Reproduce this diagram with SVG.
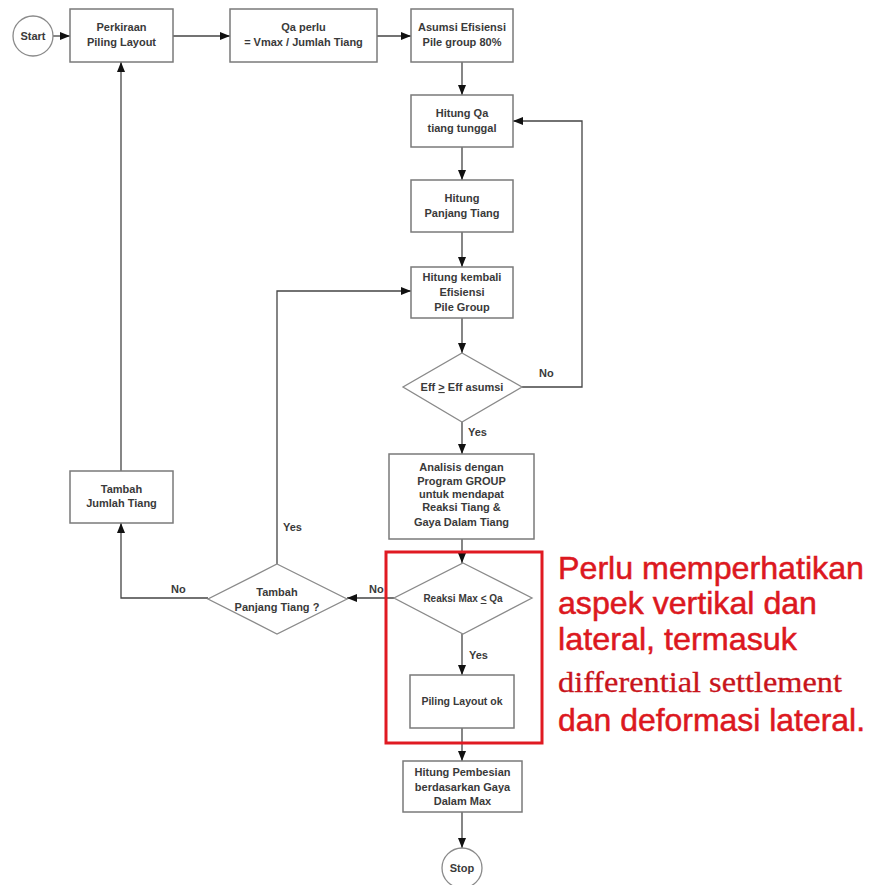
<svg xmlns="http://www.w3.org/2000/svg" width="870" height="885" viewBox="0 0 870 885">
<defs>
<marker id="ah" markerWidth="10" markerHeight="8" refX="10" refY="4" orient="auto" markerUnits="userSpaceOnUse">
<path d="M0,0 L10,4 L0,8 Z" fill="#111"/>
</marker>
<style>
.box{fill:#fff;stroke:#7a7a7a;stroke-width:1.5}
.dia{fill:#fff;stroke:#8a8a8a;stroke-width:1.3}
.term{fill:#fff;stroke:#8a8a8a;stroke-width:1.3}
.t{font-family:"Liberation Sans",Arial,sans-serif;font-size:11px;font-weight:bold;fill:#3a3a3a;text-anchor:middle}
.lbl{font-family:"Liberation Sans",Arial,sans-serif;font-size:11px;font-weight:bold;fill:#3a3a3a}
.c{fill:none;stroke:#444;stroke-width:1.3}
.a{marker-end:url(#ah)}
.red{font-family:"Liberation Sans",Arial,sans-serif;font-size:30.5px;fill:#dc1820;stroke:#dc1820;stroke-width:0.5}
.reds{font-family:"Liberation Serif","Times New Roman",serif;font-size:29px;fill:#c8141c;stroke:#c8141c;stroke-width:0.3}
</style>
</defs>
<rect width="870" height="885" fill="#fff"/>

<g id="connectors">
<path class="c a" d="M53,36 L70,36"/>
<path class="c a" d="M173,36 L230,36"/>
<path class="c a" d="M377,36 L411,36"/>
<path class="c a" d="M462,62 L462,95"/>
<path class="c a" d="M462,147 L462,180"/>
<path class="c a" d="M462,232 L462,267"/>
<path class="c a" d="M462,318 L462,353"/>
<path class="c a" d="M522,387 L582,387 L582,121 L513,121"/>
<path class="c a" d="M462,422 L462,454"/>
<path class="c a" d="M462,539 L462,563"/>
<path class="c a" d="M462,634 L462,675"/>
<path class="c a" d="M462,728 L462,761"/>
<path class="c a" d="M462,812 L462,848"/>
<path class="c a" d="M394,598 L347,598"/>
<path class="c a" d="M208,598 L121,598 L121,523"/>
<path class="c a" d="M277,564 L277,291 L411,291"/>
<path class="c a" d="M121,471 L121,62"/>
<text class="lbl" x="539" y="377">No</text>
<text class="lbl" x="468" y="436">Yes</text>
<text class="lbl" x="469" y="659">Yes</text>
<text class="lbl" x="369" y="593">No</text>
<text class="lbl" x="171" y="593">No</text>
<text class="lbl" x="283" y="531">Yes</text>
</g>

<g id="start">
<circle class="term" cx="33" cy="36" r="20"/>
<text class="t" x="33" y="40">Start</text>
</g>
<g id="perkiraan">
<rect class="box" x="70" y="9" width="103" height="53"/>
<text class="t" x="121.5" y="31">Perkiraan</text>
<text class="t" x="121.5" y="46">Piling Layout</text>
</g>
<g id="qa-perlu">
<rect class="box" x="230" y="9" width="147" height="53"/>
<text class="t" x="303.5" y="31">Qa perlu</text>
<text class="t" x="303.5" y="46">= Vmax / Jumlah Tiang</text>
</g>
<g id="asumsi">
<rect class="box" x="411" y="9" width="102" height="53"/>
<text class="t" x="462" y="31">Asumsi Efisiensi</text>
<text class="t" x="462" y="46">Pile group 80%</text>
</g>
<g id="hitung-qa">
<rect class="box" x="411" y="95" width="102" height="52"/>
<text class="t" x="462" y="117">Hitung Qa</text>
<text class="t" x="462" y="132">tiang tunggal</text>
</g>
<g id="hitung-panjang">
<rect class="box" x="411" y="180" width="102" height="52"/>
<text class="t" x="462" y="202">Hitung</text>
<text class="t" x="462" y="217">Panjang Tiang</text>
</g>
<g id="hitung-kembali">
<rect class="box" x="411" y="267" width="102" height="51"/>
<text class="t" x="462" y="281">Hitung kembali</text>
<text class="t" x="462" y="296">Efisiensi</text>
<text class="t" x="462" y="311">Pile Group</text>
</g>
<g id="eff-decision">
<polygon class="dia" points="462,353 522,387 462,422 403,387"/>
<text class="t" x="462" y="391">Eff <tspan text-decoration="underline">&gt;</tspan> Eff asumsi</text>
</g>
<g id="analisis">
<rect class="box" x="389" y="454" width="145" height="85"/>
<text class="t" x="461.5" y="471">Analisis dengan</text>
<text class="t" x="461.5" y="485">Program GROUP</text>
<text class="t" x="461.5" y="498">untuk mendapat</text>
<text class="t" x="461.5" y="511">Reaksi Tiang &amp;</text>
<text class="t" x="461.5" y="526">Gaya Dalam Tiang</text>
</g>
<g id="reaksi-decision">
<polygon class="dia" points="463,563 532,598 463,634 394,598"/>
<text class="t" x="463" y="602" style="font-size:10px">Reaksi Max <tspan text-decoration="underline">&lt;</tspan> Qa</text>
</g>
<g id="piling-ok">
<rect class="box" x="410" y="675" width="104" height="53"/>
<text class="t" x="462" y="705" style="font-size:10.5px">Piling Layout ok</text>
</g>
<g id="pembesian">
<rect class="box" x="403" y="761" width="119" height="51"/>
<text class="t" x="462.5" y="776">Hitung Pembesian</text>
<text class="t" x="462.5" y="791">berdasarkan Gaya</text>
<text class="t" x="462.5" y="805">Dalam Max</text>
</g>
<g id="stop">
<circle class="term" cx="462" cy="868" r="20"/>
<text class="t" x="462" y="872">Stop</text>
</g>
<g id="tambah-jumlah">
<rect class="box" x="70" y="471" width="103" height="52"/>
<text class="t" x="121.5" y="493">Tambah</text>
<text class="t" x="121.5" y="507">Jumlah Tiang</text>
</g>
<g id="tambah-panjang">
<polygon class="dia" points="277,564 347,599 277,634 208,599"/>
<text class="t" x="277" y="596">Tambah</text>
<text class="t" x="277" y="611">Panjang Tiang ?</text>
</g>

<g id="highlight">
<rect x="386" y="552" width="156" height="191" fill="none" stroke="#e01a22" stroke-width="3"/>
<text class="red" x="558" y="579" textLength="306" lengthAdjust="spacingAndGlyphs">Perlu memperhatikan</text>
<text class="red" x="558" y="614" textLength="259" lengthAdjust="spacingAndGlyphs">aspek vertikal dan</text>
<text class="red" x="558" y="650" textLength="239" lengthAdjust="spacingAndGlyphs">lateral, termasuk</text>
<text class="reds" x="558" y="692" textLength="284" lengthAdjust="spacingAndGlyphs">differential settlement</text>
<text class="red" x="558" y="731" textLength="307" lengthAdjust="spacingAndGlyphs">dan deformasi lateral.</text>
</g>
</svg>
